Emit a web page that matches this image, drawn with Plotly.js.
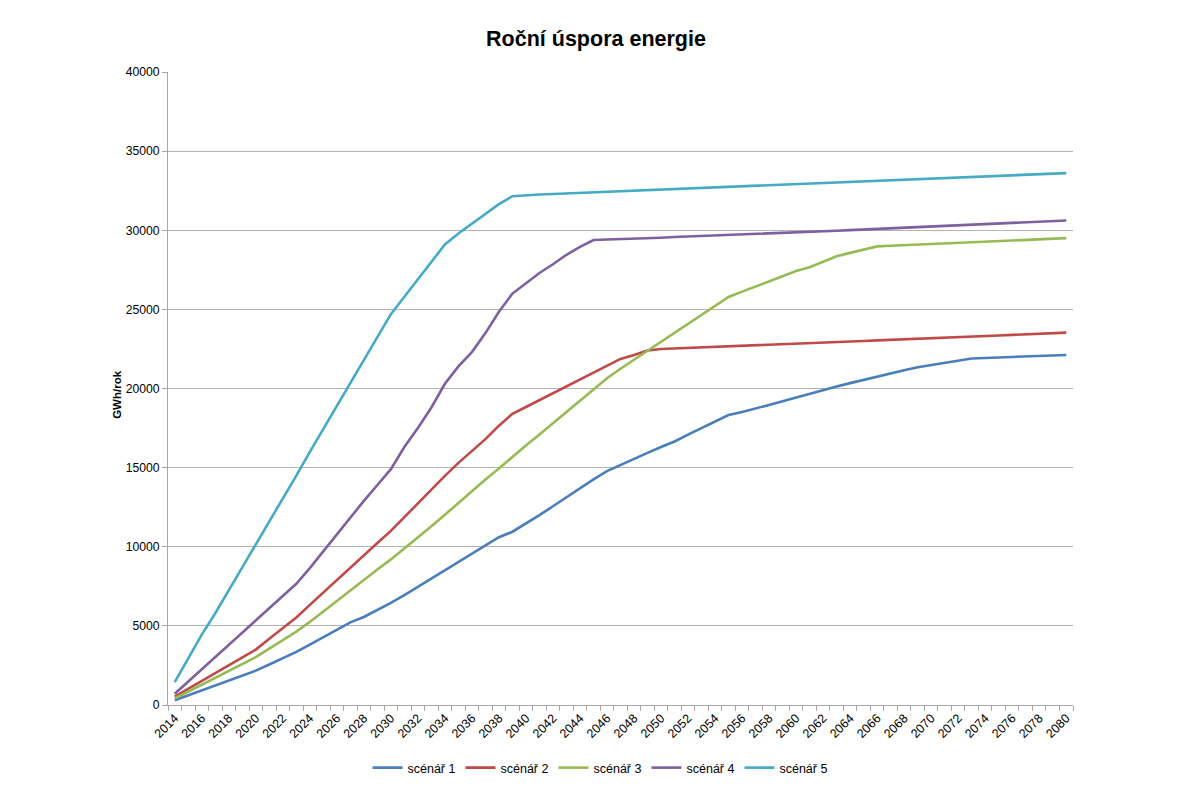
<!DOCTYPE html>
<html>
<head>
<meta charset="utf-8">
<script src="https://cdn.plot.ly/plotly-3.0.1.min.js"></script>
<style>html,body{margin:0;padding:0;background:#fff;}#chart{width:1192px;height:787px;}</style>
</head>
<body>
<div id="chart"></div>
<script>
const years = [];
for (let y = 2014; y <= 2080; y++) years.push(String(y));

const seriesNames = ["scénář 1", "scénář 2", "scénář 3", "scénář 4", "scénář 5"];

const scenar1 = [300,620,930,1240,1550,1860,2170,2560,2950,3360,3820,4280,4750,5220,5560,6000,6450,6950,7470,7990,8500,9030,9560,10100,10600,10950,11450,12000,12560,13130,13700,14260,14780,15180,15560,15930,16300,16650,17080,17510,17920,18320,18520,18720,18960,19200,19440,19680,19920,20130,20340,20550,20750,20950,21150,21340,21480,21620,21780,21900,21930,21960,21990,22020,22050,22080,22120];

const scenar2 = [530,1020,1510,2000,2500,3000,3500,4180,4870,5530,6330,7120,7900,8680,9460,10240,11000,11880,12760,13600,14480,15300,16060,16800,17650,18400,18830,19260,19700,20130,20570,21000,21440,21870,22120,22400,22500,22530,22570,22600,22630,22660,22690,22720,22760,22790,22830,22860,22900,22930,22970,23000,23040,23070,23110,23140,23180,23210,23250,23280,23320,23350,23390,23420,23460,23500,23530];

const scenar3 = [410,840,1270,1700,2140,2580,3020,3560,4100,4640,5250,5920,6580,7240,7900,8560,9200,9880,10620,11300,12020,12780,13520,14250,14950,15700,16400,17100,17800,18520,19240,19950,20650,21250,21820,22400,22960,23520,24080,24640,25200,25780,26120,26450,26780,27110,27420,27660,28010,28360,28570,28780,28980,29020,29060,29100,29140,29180,29210,29250,29290,29320,29360,29390,29430,29460,29500];

const scenar4 = [710,1480,2250,3020,3790,4560,5320,6100,6880,7660,8650,9730,10810,11880,12900,13900,14900,16300,17500,18800,20300,21400,22300,23500,24850,26000,26650,27300,27850,28450,28950,29380,29420,29440,29470,29500,29530,29570,29600,29630,29660,29700,29730,29770,29800,29830,29870,29900,29940,29970,30010,30050,30090,30130,30170,30200,30240,30280,30320,30350,30390,30430,30470,30500,30540,30580,30620];

const scenar5 = [1450,2950,4450,5800,7250,8700,10100,11600,13050,14500,16000,17450,18950,20400,21850,23300,24700,25800,26900,27950,29100,29800,30400,31000,31650,32150,32220,32255,32290,32325,32360,32395,32430,32465,32500,32535,32570,32600,32640,32670,32710,32740,32780,32810,32850,32880,32920,32950,32990,33020,33050,33080,33120,33150,33190,33220,33260,33290,33330,33360,33400,33430,33470,33500,33540,33570,33610];

const allValues = [scenar1, scenar2, scenar3, scenar4, scenar5];
const colors = ["#4A7EBB", "#BE4B48", "#98B954", "#7D60A0", "#46AAC5"];

const traces = allValues.map((vals, i) => ({
  type: "scatter",
  mode: "lines",
  name: seriesNames[i],
  x: years,
  y: vals,
  line: {color: colors[i], width: 2.6},
  hoverinfo: "x+y+name"
}));

const font = "Liberation Sans, Arial, sans-serif";

const layout = {
  width: 1192,
  height: 787,
  paper_bgcolor: "#ffffff",
  plot_bgcolor: "#ffffff",
  margin: {l: 168, r: 119, t: 72, b: 82},
  font: {family: font, size: 12.2, color: "#000"},
  title: {
    text: "<b>Roční úspora energie</b>",
    font: {family: font, size: 21.5, color: "#000"},
    xref: "container", x: 0.5, xanchor: "center",
    yref: "container", y: 1 - 38/787, yanchor: "middle"
  },
  xaxis: {
    type: "category",
    categoryorder: "array",
    categoryarray: years,
    tickmode: "linear",
    dtick: 1,
    ticklabelstep: 2,
    tickson: "boundaries",
    ticks: "outside",
    ticklen: 5,
    tickcolor: "#a6a6a6",
    tickangle: -45,
    showline: true,
    linecolor: "#a6a6a6",
    linewidth: 1,
    showgrid: false,
    zeroline: false,
    tickfont: {family: font, size: 12.5, color: "#000"},
    range: [-0.5, years.length - 0.5],
    fixedrange: true
  },
  yaxis: {
    range: [0, 40000],
    dtick: 5000,
    tick0: 0,
    ticks: "outside",
    ticklen: 5,
    tickcolor: "#a6a6a6",
    showline: true,
    linecolor: "#a6a6a6",
    linewidth: 1,
    showgrid: true,
    gridcolor: "#b3b3b3",
    gridwidth: 1,
    zeroline: false,
    tickformat: "d",
    tickfont: {family: font, size: 12.2, color: "#000"},
    fixedrange: true
  },
  annotations: [{
    text: "<b>GWh/rok</b>",
    textangle: -90,
    xref: "paper", yref: "paper",
    x: (117 - 168) / 905, y: 0.49,
    xanchor: "center", yanchor: "middle",
    showarrow: false,
    font: {family: font, size: 11.5, color: "#000"}
  }],
  showlegend: true,
  legend: {
    orientation: "h",
    xref: "paper", x: (600 - 168) / 905, xanchor: "center",
    yref: "container", y: 1 - 768/787, yanchor: "middle",
    font: {family: font, size: 12.5, color: "#000"},
    itemwidth: 30,
    tracegroupgap: 0,
    bgcolor: "rgba(0,0,0,0)"
  }
};

Plotly.newPlot("chart", traces, layout, {displayModeBar: false, staticPlot: true});
</script>
</body>
</html>
